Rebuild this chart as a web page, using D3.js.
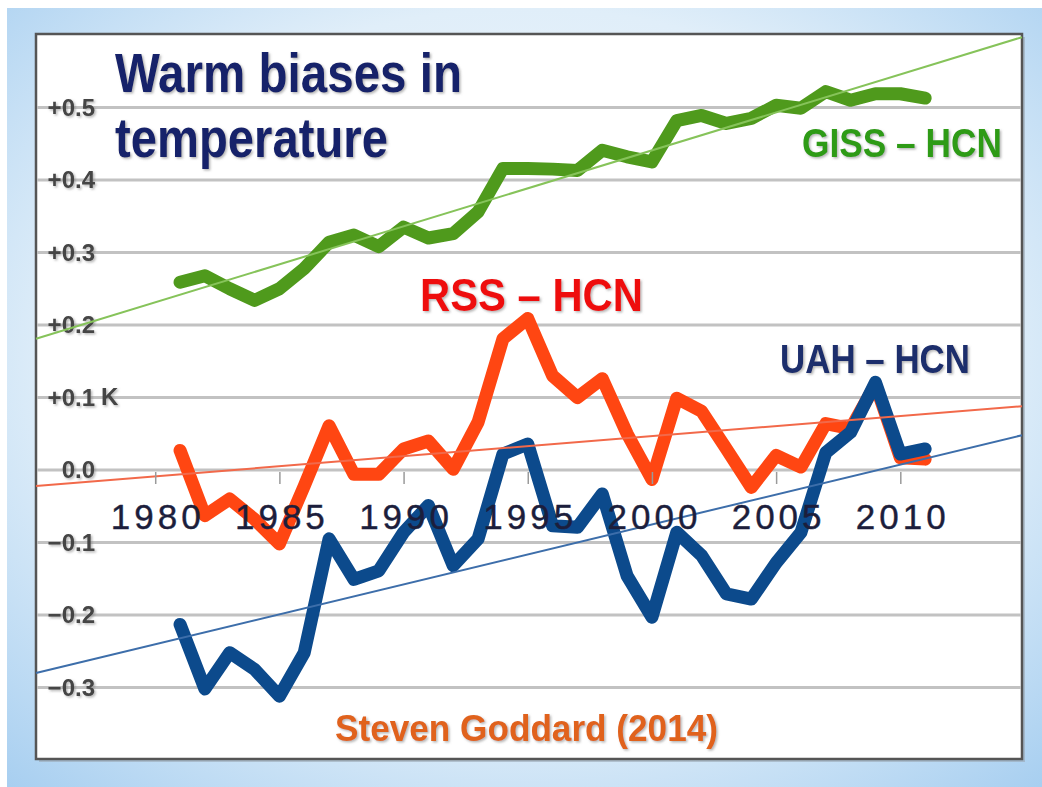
<!DOCTYPE html>
<html lang="en">
<head>
<meta charset="utf-8">
<title>Warm biases in temperature</title>
<script src="https://cdn.jsdelivr.net/npm/d3@7"></script>
<style>
  body { margin: 0; background: #fff; }
  svg { display: block; font-family: "Liberation Sans", Arial, sans-serif; }
</style>
</head>
<body>
<div id="vis-container"></div>
<script>
// Data (differences in K, one value per year)
var years = [1981, 1982, 1983, 1984, 1985, 1986, 1987, 1988, 1989, 1990,
             1991, 1992, 1993, 1994, 1995, 1996, 1997, 1998, 1999, 2000,
             2001, 2002, 2003, 2004, 2005, 2006, 2007, 2008, 2009, 2010, 2011];

var gissHcn = [0.259, 0.268, 0.250, 0.234, 0.250, 0.278, 0.314, 0.324, 0.308, 0.335,
               0.320, 0.326, 0.356, 0.416, 0.416, 0.415, 0.413, 0.441, 0.432, 0.425,
               0.482, 0.489, 0.478, 0.485, 0.503, 0.499, 0.522, 0.510, 0.519, 0.519, 0.513];

var rssHcn = [0.027, -0.063, -0.040, -0.068, -0.102, -0.022, 0.061, -0.006, -0.006, 0.029,
              0.040, 0.001, 0.066, 0.181, 0.209, 0.130, 0.100, 0.126, 0.050, -0.013,
              0.099, 0.081, 0.029, -0.024, 0.020, 0.004, 0.064, 0.057, 0.118, 0.017, 0.015];

var uahHcn = [-0.213, -0.302, -0.252, -0.275, -0.312, -0.252, -0.095, -0.151, -0.139, -0.086,
              -0.049, -0.132, -0.095, 0.022, 0.036, -0.077, -0.079, -0.033, -0.146, -0.203,
              -0.086, -0.118, -0.171, -0.178, -0.128, -0.086, 0.024, 0.052, 0.121, 0.022, 0.029];

// linear trend lines, value at the left and right edge of the plot
var trendYears = [1975.2, 2014.9];
var gissTrend = [0.181, 0.597];
var rssTrend  = [-0.022, 0.088];
var uahTrend  = [-0.280, 0.048];

var yTicks = [-0.3, -0.2, -0.1, 0.0, 0.1, 0.2, 0.3, 0.4, 0.5];
var xTicks = [1980, 1985, 1990, 1995, 2000, 2005, 2010];

var W = 1042, H = 787;
var panel = { left: 36, top: 34, right: 1022, bottom: 759 };

var x = d3.scaleLinear().domain(trendYears).range([panel.left, panel.right]);
var y = d3.scaleLinear().domain([-0.4, 0.6]).range([760, 35]);

var svg = d3.select("#vis-container").append("svg")
    .attr("width", W)
    .attr("height", H);

var defs = svg.append("defs");
var bg = defs.append("radialGradient").attr("id", "bg")
    .attr("cx", "50%").attr("cy", "45%").attr("r", "75%");
bg.append("stop").attr("offset", "0%").attr("stop-color", "#f6fafe");
bg.append("stop").attr("offset", "60%").attr("stop-color", "#e0eef9");
bg.append("stop").attr("offset", "100%").attr("stop-color", "#a6cef0");

var shadow = defs.append("filter").attr("id", "shadow")
    .attr("x", "-5%").attr("y", "-10%").attr("width", "115%").attr("height", "130%");
shadow.append("feDropShadow").attr("dx", 1.5).attr("dy", 1.5)
    .attr("stdDeviation", 1).attr("flood-color", "#777").attr("flood-opacity", 0.55);

// light blue frame and white plot panel
svg.append("rect").attr("x", 7).attr("y", 8).attr("width", W - 7).attr("height", H - 8)
    .attr("fill", "url(#bg)");
svg.append("rect")
    .attr("x", panel.left + 3).attr("y", panel.top + 3)
    .attr("width", panel.right - panel.left).attr("height", panel.bottom - panel.top)
    .attr("fill", "#9aa6b2").attr("opacity", 0.6);
svg.append("rect")
    .attr("x", panel.left).attr("y", panel.top)
    .attr("width", panel.right - panel.left).attr("height", panel.bottom - panel.top)
    .attr("fill", "#fff").attr("stroke", "#555").attr("stroke-width", 2.5);

// horizontal gridlines
svg.append("g").selectAll("line")
    .data(yTicks)
    .enter().append("line")
    .attr("x1", panel.left + 1).attr("x2", panel.right - 1)
    .attr("y1", function(d) { return y(d); })
    .attr("y2", function(d) { return y(d); })
    .attr("stroke", "#c2c2c2")
    .attr("stroke-width", 3);

// y axis labels
var fmt = function(d) {
    if (d > 0) return "+" + d.toFixed(1);
    if (d < 0) return "\u2212" + Math.abs(d).toFixed(1);
    return "0.0";
};
var yAxis = svg.append("g")
    .attr("transform", "translate(95,0)")
    .call(d3.axisLeft(y).tickValues(yTicks).tickFormat(fmt).tickSize(0).tickPadding(0));
yAxis.select(".domain").remove();
yAxis.selectAll("text")
    .style("font-size", "24px")
    .style("font-weight", "bold")
    .attr("fill", "#444")
    .attr("filter", "url(#shadow)");
svg.append("text")
    .attr("x", 101).attr("y", y(0.1)).attr("dy", "0.32em")
    .style("font-size", "24px").style("font-weight", "bold")
    .attr("fill", "#444").attr("filter", "url(#shadow)")
    .text("K");

// title
var title = svg.append("g").attr("fill", "#13226a").style("font-weight", "bold")
    .style("font-size", "55px").attr("filter", "url(#shadow)");
title.append("text").attr("x", 115).attr("y", 92)
    .attr("textLength", 347).attr("lengthAdjust", "spacingAndGlyphs")
    .text("Warm biases in");
title.append("text").attr("x", 115).attr("y", 157)
    .attr("textLength", 273).attr("lengthAdjust", "spacingAndGlyphs")
    .text("temperature");

// thick data lines
var line = d3.line()
    .x(function(d) { return x(d[0]); })
    .y(function(d) { return y(d[1]); });

function pairs(vals) {
    return years.map(function(yr, i) { return [yr, vals[i]]; });
}

var series = [
    { name: "GISS", values: gissHcn, color: "#4f9a1c" },
    { name: "RSS",  values: rssHcn,  color: "#ff4612" },
    { name: "UAH",  values: uahHcn,  color: "#0c4a8c" }
];

svg.append("g").selectAll("path")
    .data(series)
    .enter().append("path")
    .attr("d", function(d) { return line(pairs(d.values)); })
    .attr("fill", "none")
    .attr("stroke", function(d) { return d.color; })
    .attr("stroke-width", 13)
    .attr("stroke-linejoin", "round")
    .attr("stroke-linecap", "round");

// thin trend lines
var trends = [
    { values: gissTrend, color: "#86c35a" },
    { values: rssTrend,  color: "#f2694a" },
    { values: uahTrend,  color: "#3d6eaa" }
];
svg.append("g").selectAll("path")
    .data(trends)
    .enter().append("path")
    .attr("d", function(d) { return line(trendYears.map(function(yr, i) { return [yr, d.values[i]]; })); })
    .attr("fill", "none")
    .attr("stroke", function(d) { return d.color; })
    .attr("stroke-width", 2);

// x axis at zero
var xAxis = svg.append("g")
    .attr("transform", "translate(0," + (y(0) + 2) + ")")
    .call(d3.axisBottom(x).tickValues(xTicks).tickFormat(d3.format("d")).tickSize(12).tickPadding(20));
xAxis.select(".domain").remove();
xAxis.selectAll("line").attr("stroke", "#9a9a9a").attr("stroke-width", 1.5);
xAxis.selectAll("text")
    .style("font-size", "35px")
    .style("letter-spacing", "4px")
    .attr("fill", "#1c1e3c")
    .attr("stroke", "#1c1e3c")
    .attr("stroke-width", 0.4)
    .attr("dx", "2px");

// series labels
var labels = [
    { text: "GISS \u2013 HCN", x: 802, y: 157, size: 40, len: 200, color: "#2f9b16" },
    { text: "RSS \u2013 HCN",  x: 420, y: 311, size: 46, len: 223, color: "#ee1010" },
    { text: "UAH \u2013 HCN",  x: 780, y: 373, size: 40, len: 190, color: "#1a2d6c" },
    { text: "Steven Goddard (2014)", x: 335, y: 741, size: 37, len: 383, color: "#e0621e" }
];
svg.append("g").selectAll("text")
    .data(labels)
    .enter().append("text")
    .attr("x", function(d) { return d.x; })
    .attr("y", function(d) { return d.y; })
    .attr("textLength", function(d) { return d.len; })
    .attr("lengthAdjust", "spacingAndGlyphs")
    .style("font-size", function(d) { return d.size + "px"; })
    .style("font-weight", "bold")
    .attr("fill", function(d) { return d.color; })
    .attr("filter", "url(#shadow)")
    .text(function(d) { return d.text; });
</script>
</body>
</html>
